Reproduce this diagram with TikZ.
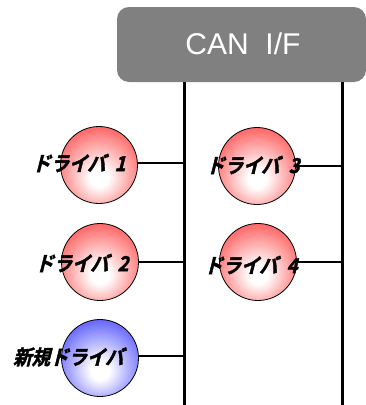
\documentclass[tikz,border=0pt]{standalone}
\usepackage{fontspec}
\setsansfont{Liberation Sans}
\newfontfamily\jpfont[FakeSlant=0.25,FakeBold=2,FakeStretch=0.9]{Noto Sans CJK JP Bold}
\pgfdeclareradialshading{ballred}{\pgfpoint{0bp}{-9bp}}{%
  color(0bp)=(white); color(6bp)=(white); color(26bp)=(red!50!white);
  color(47bp)=(red); color(70bp)=(red)}
\pgfdeclareradialshading{ballblue}{\pgfpoint{0bp}{-9bp}}{%
  color(0bp)=(white); color(6bp)=(white); color(26bp)=(blue!50!white);
  color(47bp)=(blue); color(70bp)=(blue)}
\tikzset{
  x=1pt, y=-1pt,
  ifbox/.style={fill=black!50, rounded corners=12pt, draw=none},
  bus/.style={line width=3pt},
  link/.style={line width=2.8pt},
  ball/.style={circle, draw=black, line width=0.8pt, minimum size=77pt,
               inner sep=0pt, shading=ballred},
  newball/.style={ball, shading=ballblue},
  label/.style={font=\jpfont\fontsize{20.5}{20.5}\selectfont, anchor=west,
                inner sep=0pt, text=black},
}
\newcommand{\numgap}{\hspace{9pt}}
\begin{document}
\begin{tikzpicture}
\useasboundingbox (0,0) rectangle (366,405);
% interface box
\fill[ifbox] (117,7) rectangle (366,82);
\node[font=\sffamily\fontsize{30}{30}\selectfont, text=white] (can) at (243,44) {CAN\ \ I/F};
% bus lines
\coordinate (l0) at (184,82);
\coordinate (l1) at (184,405);
\coordinate (r0) at (342,82);
\coordinate (r1) at (342,405);
\draw[bus] (l0) -- (l1);
\draw[bus] (r0) -- (r1);
% driver nodes
\node[ball] (d1) at (99,165) {};
\node[ball] (d2) at (100,262) {};
\node[ball] (d3) at (257,166) {};
\node[ball] (d4) at (258,262) {};
\node[newball] (dn) at (100,358) {};
% stubs to the bus
\coordinate (b1) at (184,163);
\coordinate (b2) at (184,262);
\coordinate (b3) at (342,166);
\coordinate (b4) at (342,262);
\coordinate (bn) at (184,356);
\draw[link] (d1.east |- b1) -- (b1);
\draw[link] (d2.east |- b2) -- (b2);
\draw[link] (d3.east |- b3) -- (b3);
\draw[link] (d4.east |- b4) -- (b4);
\draw[link] (dn.east |- bn) -- (bn);
% labels
\node[label] (t1) at (32,163) {ドライバ\numgap 1};
\node[label] (t2) at (35,263) {ドライバ\numgap 2};
\node[label] (t3) at (206,165) {ドライバ\numgap 3};
\node[label] (t4) at (204,265) {ドライバ\numgap 4};
\node[label] (tn) at (13,357) {新規ドライバ};
\end{tikzpicture}
\end{document}
